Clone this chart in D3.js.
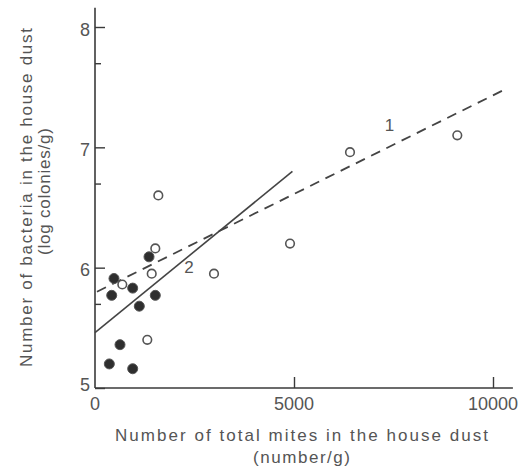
<!DOCTYPE html>
<html><head><meta charset="utf-8">
<script src="https://cdn.jsdelivr.net/npm/d3@7"></script>
<style>body{margin:0;background:#fff}svg{display:block}text{font-family:"Liberation Sans",Arial,sans-serif;fill:#555}</style>
</head><body>
<script>
// Data
const filledX = [477, 1357, 420, 947, 1113, 1515, 628, 360, 947];
const filledY = [5.91, 6.09, 5.77, 5.83, 5.68, 5.77, 5.36, 5.20, 5.16];
const openX = [1591, 1515, 1425, 686, 1314, 2990, 4900, 6407, 9103];
const openY = [6.60, 6.16, 5.95, 5.86, 5.40, 5.95, 6.20, 6.96, 7.10];
const line1X = [50, 10230];
const line1Y = [5.80, 7.47];
const line2X = [0, 4960];
const line2Y = [5.46, 6.80];
const xTicks = [0, 5000, 10000];
const yTicks = [5, 6, 7, 8];
const yMinor = [5.699, 6.699, 7.699];
const xTitle = ["Number of total mites in the house dust", "(number/g)"];
const yTitle = ["Number of bacteria in the house dust", "(log colonies/g)"];

const W = 531, H = 470;
const svg = d3.select("body").append("svg").attr("width", W).attr("height", H);
const x = d3.scaleLinear().domain([0, 10000]).range([95, 493]);
const y = d3.scaleLinear().domain([5, 8]).range([388, 27]);
const ink = "#3a3a3a";

// axes lines
svg.append("line").attr("x1", x(0)).attr("x2", x(10500)).attr("y1", y(5)).attr("y2", y(5)).attr("stroke", ink).attr("stroke-width", 1.6);
svg.append("line").attr("x1", x(0)).attr("x2", x(0)).attr("y1", y(5)).attr("y2", y(8.16)).attr("stroke", ink).attr("stroke-width", 1.6);

// y ticks (inward)
const yAxis = d3.axisRight(y).tickValues(yTicks).tickSize(10).tickFormat("");
const gy = svg.append("g").attr("transform", `translate(${x(0)},0)`).call(yAxis);
gy.select(".domain").remove();
gy.selectAll("line").attr("stroke", ink).attr("stroke-width", 1.4);
const yAxisMinor = d3.axisRight(y).tickValues(yMinor).tickSize(6).tickFormat("");
const gym = svg.append("g").attr("transform", `translate(${x(0)},0)`).call(yAxisMinor);
gym.select(".domain").remove();
gym.selectAll("line").attr("stroke", ink).attr("stroke-width", 1.4);
svg.selectAll(".ylab").data(yTicks).join("text").attr("class", "ylab")
  .attr("x", 90).attr("y", d => y(d) + (d === 5 ? -3 : 3)).attr("dy", "0.32em")
  .attr("text-anchor", "end").attr("font-size", 18).text(d => d);

// x ticks (inward)
const xAxis = d3.axisTop(x).tickValues(xTicks.filter(d => d > 0)).tickSize(11).tickFormat("");
const gx = svg.append("g").attr("transform", `translate(0,${y(5)})`).call(xAxis);
gx.select(".domain").remove();
gx.selectAll("line").attr("stroke", ink).attr("stroke-width", 1.4);
svg.selectAll(".xlab").data(xTicks).join("text").attr("class", "xlab")
  .attr("x", d => x(d)).attr("y", 410).attr("text-anchor", "middle").attr("font-size", 18).text(d => d);

// titles
svg.append("text").attr("x", 301.5).attr("y", 441).attr("text-anchor", "middle").attr("font-size", 17)
  .attr("textLength", 373).attr("lengthAdjust", "spacing").text(xTitle[0]);
svg.append("text").attr("x", 301.5).attr("y", 463).attr("text-anchor", "middle").attr("font-size", 17)
  .attr("textLength", 97).attr("lengthAdjust", "spacing").text(xTitle[1]);
svg.append("text").attr("transform", "translate(32,197.5) rotate(-90)").attr("text-anchor", "middle").attr("font-size", 17)
  .attr("textLength", 339).attr("lengthAdjust", "spacing").text(yTitle[0]);
svg.append("text").attr("transform", "translate(50,191.5) rotate(-90)").attr("text-anchor", "middle").attr("font-size", 17)
  .attr("textLength", 127).attr("lengthAdjust", "spacing").text(yTitle[1]);

// regression lines
const lineGen = d3.line().x(d => x(d[0])).y(d => y(d[1]));
svg.append("path").datum(d3.zip(line1X, line1Y)).attr("d", lineGen).attr("fill", "none")
  .attr("stroke", "#444").attr("stroke-width", 1.8).attr("stroke-dasharray", "10,7");
svg.append("path").datum(d3.zip(line2X, line2Y)).attr("d", lineGen).attr("fill", "none")
  .attr("stroke", "#444").attr("stroke-width", 1.6);
svg.append("text").attr("x", x(7400)).attr("y", y(7.18)).attr("dy", "0.32em").attr("text-anchor", "middle").attr("font-size", 17).text("1");
svg.append("text").attr("x", x(2360)).attr("y", y(6.0)).attr("dy", "0.32em").attr("text-anchor", "middle").attr("font-size", 17).text("2");

// points
svg.selectAll(".open").data(d3.zip(openX, openY)).join("circle").attr("class", "open")
  .attr("cx", d => x(d[0])).attr("cy", d => y(d[1])).attr("r", 4.3)
  .attr("fill", "#fff").attr("stroke", "#555").attr("stroke-width", 1.6);
svg.selectAll(".filled").data(d3.zip(filledX, filledY)).join("circle").attr("class", "filled")
  .attr("cx", d => x(d[0])).attr("cy", d => y(d[1])).attr("r", 5)
  .attr("fill", "#2e2e2e").attr("stroke", "#555").attr("stroke-width", 1);
</script>
</body></html>
